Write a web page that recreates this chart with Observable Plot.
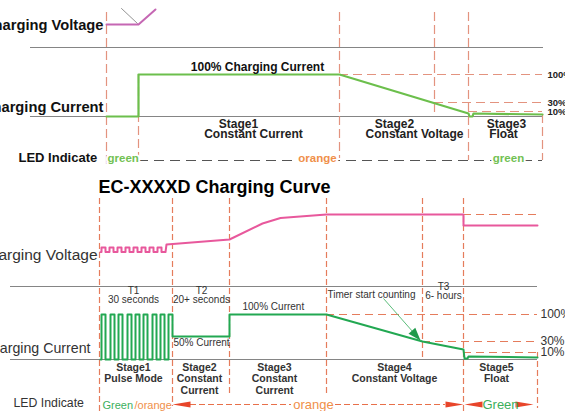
<!DOCTYPE html>
<html><head><meta charset="utf-8">
<script src="https://cdn.jsdelivr.net/npm/d3@7"></script>
<script src="https://cdn.jsdelivr.net/npm/@observablehq/plot@0.6"></script>
<style>html,body{margin:0;padding:0;background:#fff;overflow:hidden}</style>
</head><body><div id="chart"></div>
<script>
// ===== Schematic coordinates (diagram units) =====
// ---- Top (cropped) diagram ----
const topStageLines = [
  {x:106, y1:12, y2:164}, {x:138, y1:74, y2:160}, {x:339, y1:12, y2:158},
  {x:434, y1:12, y2:116}, {x:468, y1:12, y2:160}, {x:542, y1:114, y2:160}
];
const topAxes = [{y:47, x1:30, x2:543}, {y:116, x1:30, x2:543}];
const topLevels = [{y:74, x1:339, x2:542}, {y:102, x1:434, x2:542}, {y:111, x1:468, x2:542}];
const topLevelLabels = ["100%", "30%", "10%"];
const topVoltage = [[106,24],[138,24],[155,9]];
const topPointer = [[121,8],[137,23]];
const topCurrent = [[106,116],[138,116],[138,74],[339,74],[468,113],[469,116],[472,116],[473,113],[542,114]];
const topLed = [{y:160, x1:138, x2:542}];

// ---- Bottom diagram: EC-XXXXD ----
const botStageLines = [
  {x:99, y1:198, y2:411}, {x:172, y1:198, y2:406}, {x:229, y1:198, y2:396},
  {x:326, y1:198, y2:394}, {x:422, y1:198, y2:359}, {x:463, y1:198, y2:411},
  {x:537, y1:352, y2:408}
];
const botAxes = [{y:286, x1:10, x2:537}, {y:359, x1:10, x2:537}];
const botLevels = [{y:214, x1:463, x2:537}, {y:314, x1:326, x2:537}, {y:341, x1:422, x2:537}, {y:352, x1:463, x2:537}];
const botLevelLabels = ["100%", "30%", "10%"];
// Pulse mode: [rise, fall] x positions
const voltPulses = [[101,105],[109,113],[117,121],[125,129],[133,137],[141,145],[149,153],[157,161]];
const voltPulseLevels = [251.5, 247];   // low, high
const voltRest = [[165,251.5],[166,244],[229,239],[262,223],[280,217.5],[326,214],[463,214],[463,225],[537,225]];
const curPulses = [[101,105],[110,114],[118,122],[127,131],[135,139],[143,147],[152,156],[160,164],[168,172]];
const curPulseLevels = [359, 314];
const curRest = [[172,336],[229,336],[229,314],[326,314],[422,341],[463,349],[464,358],[467,358],[468,356],[537,357]];
const timerArrow = {x1:383, y1:298, x2:420, y2:340};

function pulsePath(pulses, levels, startX) {
  const [lo, hi] = levels, pts = [[startX, lo]];
  for (const [a, b] of pulses) pts.push([a, lo], [a, hi], [b, hi], [b, lo]);
  return pts;
}
const voltage2 = pulsePath(voltPulses, voltPulseLevels, 100).concat(voltRest);
const current2 = pulsePath(curPulses, curPulseLevels, 100).slice(0, -1).concat(curRest);

// ---- Texts ----
const topTexts = [
  {x:103, y:29, t:"Charging Voltage", a:"end", s:14.7, c:"#111"},
  {x:103, y:111, t:"Charging Current", a:"end", s:14.7, c:"#111"},
  {x:257, y:70, t:"100% Charging Current", a:"middle", s:12, c:"#111"},
  {x:238, y:127, t:"Stage1", a:"middle", s:12, c:"#222"},
  {x:253, y:137, t:"Constant Current", a:"middle", s:12, c:"#222"},
  {x:394, y:127, t:"Stage2", a:"middle", s:12, c:"#222"},
  {x:414, y:137, t:"Constant Voltage", a:"middle", s:12, c:"#222"},
  {x:506, y:127, t:"Stage3", a:"middle", s:12, c:"#222"},
  {x:503, y:137, t:"Float", a:"middle", s:12, c:"#222"},
  {x:18, y:161, t:"LED Indicate", a:"start", s:13, c:"#111"}
];
const topLedTexts = [
  {x:107, y:161, t:"green", a:"start", c:"#72c153"},
  {x:317, y:161, t:"orange", a:"middle", c:"#f0904a"},
  {x:508, y:161, t:"green", a:"middle", c:"#72c153"}
];
const botTitle = "EC-XXXXD Charging Curve";
const botTexts = [
  {x:97, y:259, t:"Charging Voltage", a:"end", s:15.5},
  {x:90, y:352, t:"Charging Current", a:"end", s:14.2},
  {x:13, y:406, t:"LED Indicate", a:"start", s:12.3},
  {x:133, y:302, t:"T1\n30 seconds", a:"middle", s:10},
  {x:201, y:302, t:"T2\n20+ seconds", a:"middle", s:10},
  {x:443, y:298, t:"T3\n6- hours", a:"middle", s:10},
  {x:327, y:297, t:"Timer start counting", a:"start", s:10},
  {x:242, y:309, t:"100% Current", a:"start", s:10},
  {x:173, y:345, t:"50% Current", a:"start", s:10}
];
const botStages = [
  {x:133, y:370, t:"Stage1\nPulse Mode"},
  {x:199, y:370, t:"Stage2\nConstant\nCurrent"},
  {x:274, y:370, t:"Stage3\nConstant\nCurrent"},
  {x:394, y:370, t:"Stage4\nConstant Voltage"},
  {x:496, y:370, t:"Stage5\nFloat"}
];
const botLedDash = [{y:404, x1:190, x2:291}, {y:404, x1:335, x2:445}, {y:404, x1:516, x2:521}];
const botLedArrows = [
  {x:172, y:404, r:180}, {x:463, y:404, r:0}, {x:464, y:404, r:180}, {x:533, y:404, r:0}
];
const botLedTexts = [
  {x:102, y:408, t:"Green", a:"start", c:"#3caf5c", s:11},
  {x:134, y:408, t:"/orange", a:"start", c:"#f0904a", s:11},
  {x:313, y:408, t:"orange", a:"middle", c:"#f0904a", s:13},
  {x:500, y:408, t:"Green", a:"middle", c:"#3caf5c", s:13}
];

const arrowHead = (len, half) => ({draw(ctx){ ctx.moveTo(0,0); ctx.lineTo(-len,-half); ctx.lineTo(-len,half); ctx.closePath(); }});
const timerAngle = Math.atan2(timerArrow.y2 - timerArrow.y1, timerArrow.x2 - timerArrow.x1) * 180 / Math.PI;

// text marks grouped by anchor (textAnchor is a constant option)
function texts(data, opts) {
  return ["start", "middle", "end"].map(a =>
    Plot.text(data.filter(d => d.a === a), {x:"x", y:"y", text:"t", textAnchor:a, lineAnchor:"bottom", ...opts}));
}

const salmonTop = "#e3937f", salmonBot = "#e57c5c", gray = "#858585";
const FONT = "Liberation Sans, Arial, sans-serif";

const chart = Plot.plot({
  width: 565, height: 411, margin: 0,
  x: {domain: [0, 565], axis: null},
  y: {domain: [0, 411], reverse: true, axis: null},
  style: {background: "#fff", fontFamily: FONT},
  marks: [
    // ---- top diagram ----
    Plot.ruleY(topAxes, {y:"y", x1:"x1", x2:"x2", stroke:gray, strokeWidth:1}),
    Plot.ruleX(topStageLines, {x:"x", y1:"y1", y2:"y2", stroke:salmonTop, strokeWidth:1.2, strokeDasharray:"9,4"}),
    Plot.ruleY(topLevels, {y:"y", x1:"x1", x2:"x2", stroke:salmonTop, strokeWidth:1.2, strokeDasharray:"9,5"}),
    Plot.ruleY(topLed, {y:"y", x1:"x1", x2:"x2", stroke:"#555", strokeWidth:1.2, strokeDasharray:"10,6"}),
    Plot.line(topPointer, {x:d=>d[0], y:d=>d[1], stroke:"#777", strokeWidth:0.8}),
    Plot.line(topVoltage, {x:d=>d[0], y:d=>d[1], stroke:"#c567b3", strokeWidth:2}),
    Plot.line(topCurrent, {x:d=>d[0], y:d=>d[1], stroke:"#6cbf4c", strokeWidth:2.2}),
    ...texts(topTexts, {fontSize:d=>d.s, fill:"c", fontWeight:"bold"}),
    Plot.text(topLevels, {x:547, y:d=>d.y+3.5, text:(d,i)=>topLevelLabels[i], textAnchor:"start", fontSize:9.5, fontWeight:"bold", fill:"#222", lineAnchor:"bottom"}),
    ...texts(topLedTexts, {fill:"c", fontSize:11.5, fontWeight:"bold", stroke:"#fff", strokeWidth:4, paintOrder:"stroke"}),
    // ---- bottom diagram ----
    Plot.text([botTitle], {x:98, y:192, text:d=>d, textAnchor:"start", fontSize:18, fontWeight:"bold", fill:"#000", lineAnchor:"bottom"}),
    Plot.ruleY(botAxes, {y:"y", x1:"x1", x2:"x2", stroke:gray, strokeWidth:1}),
    Plot.ruleX(botStageLines, {x:"x", y1:"y1", y2:"y2", stroke:salmonBot, strokeWidth:1.2, strokeDasharray:"6,3"}),
    Plot.ruleY(botLevels, {y:"y", x1:"x1", x2:"x2", stroke:salmonBot, strokeWidth:1.2, strokeDasharray:"8,5"}),
    Plot.line(voltage2, {x:d=>d[0], y:d=>d[1], stroke:"#e8589c", strokeWidth:2}),
    Plot.line(current2, {x:d=>d[0], y:d=>d[1], stroke:"#22a852", strokeWidth:2}),
    Plot.link([timerArrow], {x1:"x1", y1:"y1", x2:"x2", y2:"y2", stroke:"#5bbd7a", strokeWidth:1}),
    Plot.dot([timerArrow], {x:"x2", y:"y2", rotate:timerAngle, symbol:arrowHead(13,4.5), fill:"#1f9a4a", stroke:"none"}),
    ...texts(botTexts, {fontSize:d=>d.s, fill:"#333", lineHeight:0.85}),
    Plot.text(botLevels.slice(1), {x:540, y:d=>d.y+3, text:(d,i)=>botLevelLabels[i], textAnchor:"start", fontSize:12, fill:"#333", lineAnchor:"bottom"}),
    Plot.text(botStages, {x:"x", y:"y", text:"t", textAnchor:"middle", fontSize:10.5, fontWeight:"bold", fill:"#333", lineAnchor:"top", dy:-8, lineHeight:1.1}),
    Plot.ruleY(botLedDash, {y:"y", x1:"x1", x2:"x2", stroke:"#e8704a", strokeWidth:1.2, strokeDasharray:"6,3"}),
    Plot.dot(botLedArrows, {x:"x", y:"y", rotate:"r", symbol:arrowHead(18,3), fill:"#e8452a", stroke:"none"}),
    ...texts(botLedTexts, {fill:"c", fontSize:d=>d.s})
  ]
});
document.getElementById("chart").appendChild(chart);
</script>
</body></html>
